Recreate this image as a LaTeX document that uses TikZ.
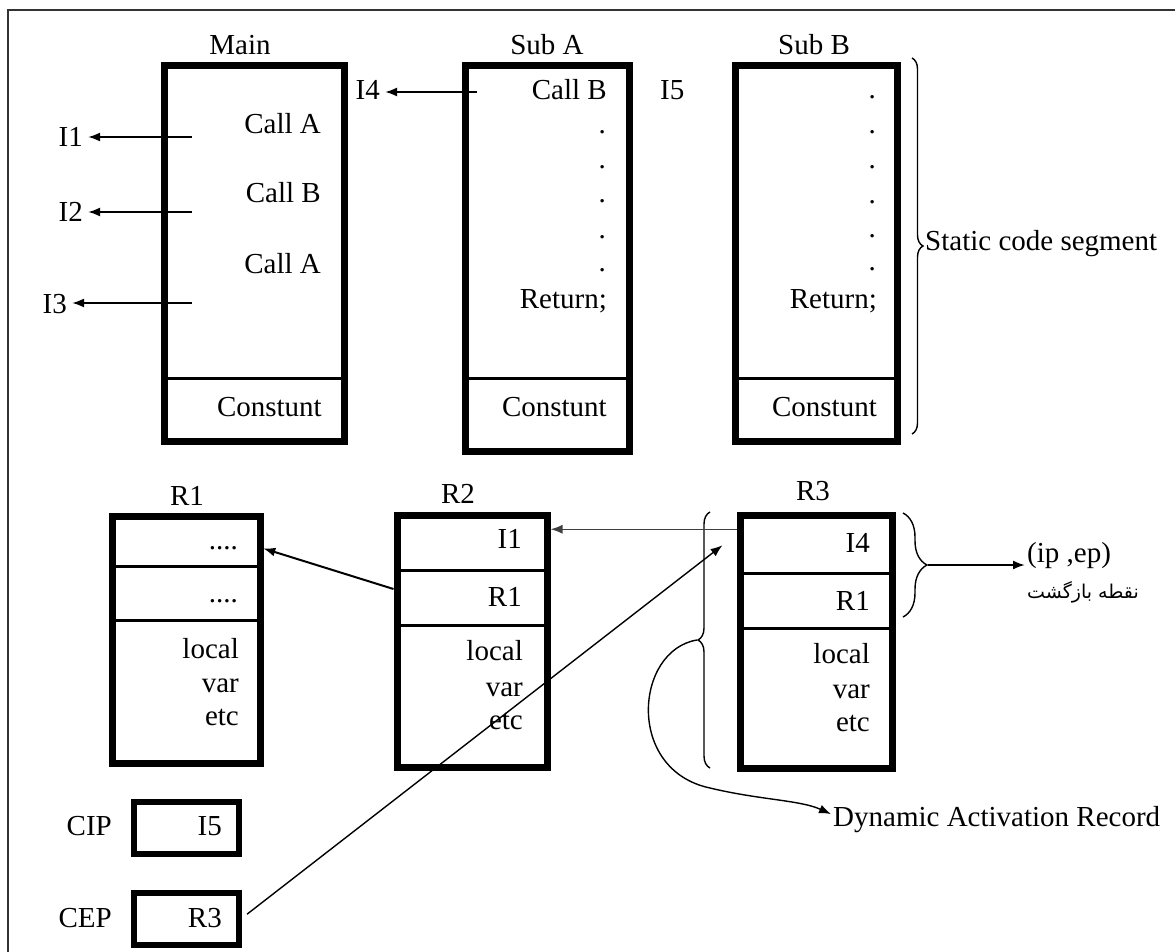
\documentclass[tikz,border=0pt]{standalone}
\usepackage{fontspec}
\setmainfont{Liberation Serif}
\newfontfamily\persianfont[Script=Arabic]{DejaVu Sans}
\TeXXeTstate=1
\usetikzlibrary{arrows.meta, decorations.pathreplacing}
\tikzstyle{segbox} = [
    rectangle,
    draw=black,
    line width=7pt,
    inner sep=0pt,
    anchor=north west
]
\tikzstyle{cell} = [
    rectangle,
    draw=black,
    line width=3pt,
    inner sep=0pt,
    anchor=north west
]
\tikzstyle{code} = [inner sep=0pt, anchor=base east]
\tikzstyle{heading} = [inner sep=0pt, anchor=base]
\tikzstyle{pointer} = [inner xsep=5pt, inner ysep=0pt, anchor=base east]
\tikzstyle{arrow} = [line width=2pt, -{Latex[length=12pt, width=9pt]}]
\tikzstyle{thinarrow} = [line width=1.4pt, -{Latex[length=12pt, width=9pt]}]
\tikzstyle{bracket} = [line width=1.4pt, decorate]

\begin{document}
\begin{tikzpicture}[x=1pt, y=-1pt, font=\fontsize{29}{34}\selectfont]

\useasboundingbox (0,0) rectangle (1175,952);
\draw [line width=2.5pt, black!80] (8,960) -- (8,10) -- (1180,10);

% static code segment
\node (mainconst) [cell, minimum width=180pt, minimum height=60.5pt] at (160.5,377) {};
\node (main) [segbox, minimum width=180pt, minimum height=375pt] at (160.5,62.5) {};
\node (maint) [heading] at (240,55) {Main};
\node (mainca) [code] at (321,134) {Call A};
\node (maincb) [code] at (321,203) {Call B};
\node (maincc) [code] at (321,273) {Call A};
\node (maink) [code] at (322,416) {Constunt};

\node (subaconst) [cell, minimum width=164pt, minimum height=70.5pt] at (461.5,377) {};
\node (suba) [segbox, minimum width=164pt, minimum height=385pt] at (461.5,62.5) {};
\node (subat) [heading] at (547,55) {Sub A};
\node (subacb) [code] at (607,100) {Call B};
\node (subad1) [code] at (606,134) {.};
\node (subad2) [code] at (606,169) {.};
\node (subad3) [code] at (606,203) {.};
\node (subad4) [code] at (606,238) {.};
\node (subad5) [code] at (606,271) {.};
\node (subaret) [code] at (607,308) {Return;};
\node (subak) [code] at (607,416) {Constunt};

\node (subbconst) [cell, minimum width=162pt, minimum height=60.5pt] at (731.5,377) {};
\node (subb) [segbox, minimum width=162pt, minimum height=375pt] at (731.5,62.5) {};
\node (subbt) [heading] at (814,55) {Sub B};
\node (subbd1) [code] at (876,99) {.};
\node (subbd2) [code] at (876,134) {.};
\node (subbd3) [code] at (876,169) {.};
\node (subbd4) [code] at (876,204) {.};
\node (subbd5) [code] at (876,237) {.};
\node (subbd6) [code] at (876,270) {.};
\node (subbret) [code] at (877,308) {Return;};
\node (subbk) [code] at (877,416) {Constunt};

\draw [bracket, decoration={brace, amplitude=11pt}] (912,58) -- (912,434);
\node (static) [inner sep=0pt, anchor=base west] at (925,250) {Static code segment};

% return points
\coordinate (ma) at (192,137);
\coordinate (mb) at (192,212);
\coordinate (mc) at (192,303);
\coordinate (sa) at (477,92);
\node (i1) [pointer] at (88,147) {I1};
\node (i2) [pointer] at (88,222) {I2};
\node (i3) [pointer] at (72,313) {I3};
\node (i4) [pointer] at (385,100) {I4};
\node (i5) [inner sep=0pt, anchor=base west] at (660,100) {I5};

\draw [arrow] (ma) -- (ma -| i1.east);
\draw [arrow] (mb) -- (mb -| i2.east);
\draw [arrow] (mc) -- (mc -| i3.east);
\draw [arrow] (sa) -- (sa -| i4.east);

% activation records
\node (r1a) [cell, minimum width=148pt, minimum height=52.5pt] at (108.5,512.5) {};
\node (r1b) [cell, minimum width=148pt, minimum height=54pt] at (108.5,565) {};
\node (r1c) [cell, minimum width=148pt, minimum height=140.5pt] at (108.5,619) {};
\node (r1) [segbox, minimum width=148pt, minimum height=247pt] at (108.5,512.5) {};
\node (r1t) [heading] at (187,505) {R1};
\node (r1ip) [code] at (238,549) {....};
\node (r1ep) [code] at (238,602) {....};
\node (r1loc) [code] at (239,658) {local};
\node (r1var) [code] at (239,692) {var};
\node (r1etc) [code] at (239,725) {etc};

\node (r2a) [cell, minimum width=150pt, minimum height=57.5pt] at (393.5,511.5) {};
\node (r2b) [cell, minimum width=150pt, minimum height=55pt] at (393.5,569) {};
\node (r2c) [cell, minimum width=150pt, minimum height=139.5pt] at (393.5,624) {};
\node (r2) [segbox, minimum width=150pt, minimum height=252pt] at (393.5,511.5) {};
\node (r2t) [heading] at (458,503) {R2};
\node (r2ip) [code] at (522,548) {I1};
\node (r2ep) [code] at (522,606) {R1};
\node (r2loc) [code] at (523,660) {local};
\node (r2var) [code] at (523,696) {var};
\node (r2etc) [code] at (523,729) {etc};

\node (r3a) [cell, minimum width=152pt, minimum height=60.5pt] at (736.5,511.5) {};
\node (r3b) [cell, minimum width=152pt, minimum height=55pt] at (736.5,572) {};
\node (r3c) [cell, minimum width=152pt, minimum height=137.5pt] at (736.5,627) {};
\node (r3) [segbox, minimum width=152pt, minimum height=253pt] at (736.5,511.5) {};
\node (r3t) [heading] at (813,500) {R3};
\node (r3ip) [code] at (870,552) {I4};
\node (r3ep) [code] at (870,610) {R1};
\node (r3loc) [code] at (870,663) {local};
\node (r3var) [code] at (870,698) {var};
\node (r3etc) [code] at (870,731) {etc};

% current pointers
\node (cip) [segbox, line width=6pt, minimum width=105pt, minimum height=52pt] at (130.5,798.5) {};
\node (cipv) [code] at (222,835) {I5};
\node (cipl) [code] at (112,835) {CIP};
\node (cep) [segbox, line width=6pt, minimum width=105pt, minimum height=52pt] at (130.5,889.5) {};
\node (cepv) [code] at (222,927) {R3};
\node (cepl) [code] at (112,927) {CEP};

% braces and labels
\draw [bracket, decoration={brace, amplitude=12pt}] (710,768) -- (710,512);
\coordinate (dynbr) at (697,640);
\draw [bracket, decoration={brace, amplitude=24pt}] (903,513) -- (903,617);
\coordinate (ipbr) at (928,565);

\node (ipep) [inner xsep=2pt, inner ysep=0pt, anchor=base west] at (1025,562) {(ip ,ep)};
\node (retpt) [inner sep=0pt] at (1083,592) {\persianfont\fontsize{19}{22}\selectfont\beginR نقطه بازگشت\endR};
\node (dar) [inner xsep=2pt, inner ysep=0pt, anchor=base west] at (831,826) {Dynamic Activation Record};

\coordinate (r3link) at ([yshift=14pt]r3a.west);

\draw [arrow] (ipbr) -- (ipbr -| ipep.west);
\draw [thinarrow, black!75, shorten >=4pt] (r3link) -- (r3link -| r2a.east);
\draw [arrow, shorten >=4pt] ([yshift=9pt]r2b.west) -- ([yshift=-7pt]r1a.east);
\draw [thinarrow, shorten <=7pt] (cep.east) -- ([xshift=-14pt, yshift=-2pt]r3a.west);
\draw [thinarrow] (dynbr) .. controls (635,650) and (625,770) .. (710,788)
    .. controls (760,800) and (800,800) .. ([yshift=5pt]dar.west);

\end{tikzpicture}
\end{document}
